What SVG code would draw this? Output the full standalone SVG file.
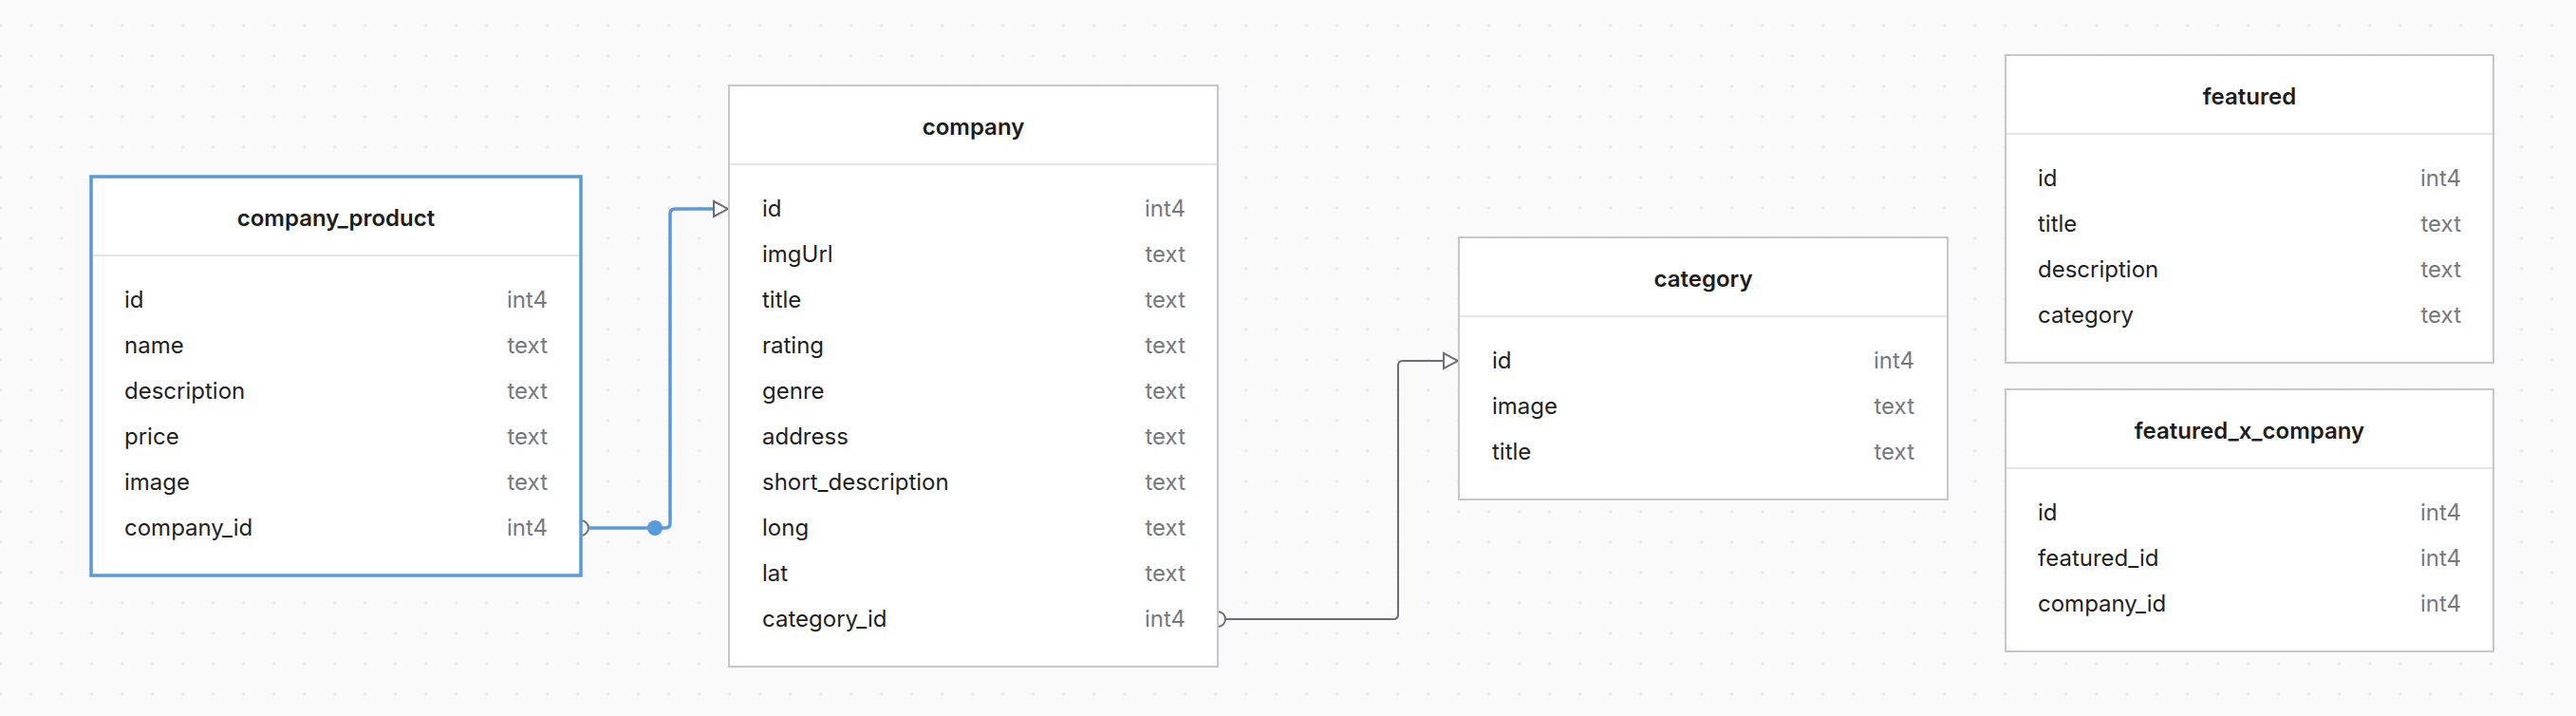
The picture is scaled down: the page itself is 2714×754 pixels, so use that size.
<svg xmlns="http://www.w3.org/2000/svg" width="2714" height="754" viewBox="0 0 2714 754">
<defs>
<pattern id="dots" patternUnits="userSpaceOnUse" x="-15" y="10.7" width="32" height="32">
<circle cx="16" cy="16" r="1.6" fill="#e2e2e4"/>
</pattern>
<style>
.box{fill:#ffffff;stroke:#c6c6cd;stroke-width:2}
.sel{fill:#ffffff;stroke:#5a99dc;stroke-width:3.5}
.hd{stroke:#e4e4e7;stroke-width:2}
.ttl{font-family:Inter,"Liberation Sans",sans-serif;font-size:24px;font-weight:600;fill:#1c1c1c;text-anchor:middle}
.col{font-family:Inter,"Liberation Sans",sans-serif;font-size:24px;fill:#1f1f1f}
.typ{font-family:Inter,"Liberation Sans",sans-serif;font-size:24px;fill:#777781;text-anchor:end}
.ln{fill:none;stroke:#6e6e78;stroke-width:2}
.lnb{fill:none;stroke:#5a99dc;stroke-width:3.5}
.end{fill:#fafafa;stroke:#6e6e78;stroke-width:2}
.arr{fill:#ffffff;stroke:#6e6e78;stroke-width:2;stroke-linejoin:miter}
</style>
</defs>
<rect width="2714" height="754" fill="#fafafa"/>
<rect width="2714" height="754" fill="url(#dots)"/>

<g id="connectors">
<g id="edge-company_product-company">
<circle class="end" cx="612" cy="556" r="8"/>
<path class="lnb" d="M620 556 H701 Q706 556 706 551 V225 Q706 220 711 220 H752"/>
<circle cx="690" cy="556" r="8" fill="#5a99dc"/>
<path class="arr" d="M752 212 L767 220 L752 228 Z"/>
</g>
<g id="edge-company-category">
<circle class="end" cx="1283" cy="652" r="8"/>
<path class="ln" d="M1291 652 H1468 Q1473 652 1473 647 V385 Q1473 380 1478 380 H1521"/>
<path class="arr" d="M1521 372 L1536 380 L1521 388 Z"/>
</g>
</g>

<g id="company_product">
<rect class="sel" x="96" y="186" width="516" height="420"/>
<line class="hd" x1="98" y1="269" x2="610" y2="269"/>
<text class="ttl" x="354" y="238">company_product</text>
<text class="col" x="131" y="324">id</text><text class="typ" x="577" y="324">int4</text>
<text class="col" x="131" y="372">name</text><text class="typ" x="577" y="372">text</text>
<text class="col" x="131" y="420">description</text><text class="typ" x="577" y="420">text</text>
<text class="col" x="131" y="468">price</text><text class="typ" x="577" y="468">text</text>
<text class="col" x="131" y="516">image</text><text class="typ" x="577" y="516">text</text>
<text class="col" x="131" y="564">company_id</text><text class="typ" x="577" y="564">int4</text>
</g>

<g id="company">
<rect class="box" x="768" y="90" width="515" height="612"/>
<line class="hd" x1="769" y1="173" x2="1282" y2="173"/>
<text class="ttl" x="1025.5" y="142">company</text>
<text class="col" x="803" y="228">id</text><text class="typ" x="1249" y="228">int4</text>
<text class="col" x="803" y="276">imgUrl</text><text class="typ" x="1249" y="276">text</text>
<text class="col" x="803" y="324">title</text><text class="typ" x="1249" y="324">text</text>
<text class="col" x="803" y="372">rating</text><text class="typ" x="1249" y="372">text</text>
<text class="col" x="803" y="420">genre</text><text class="typ" x="1249" y="420">text</text>
<text class="col" x="803" y="468">address</text><text class="typ" x="1249" y="468">text</text>
<text class="col" x="803" y="516">short_description</text><text class="typ" x="1249" y="516">text</text>
<text class="col" x="803" y="564">long</text><text class="typ" x="1249" y="564">text</text>
<text class="col" x="803" y="612">lat</text><text class="typ" x="1249" y="612">text</text>
<text class="col" x="803" y="660">category_id</text><text class="typ" x="1249" y="660">int4</text>
</g>

<g id="category">
<rect class="box" x="1537" y="250" width="515" height="276"/>
<line class="hd" x1="1538" y1="333" x2="2051" y2="333"/>
<text class="ttl" x="1794.5" y="302">category</text>
<text class="col" x="1572" y="388">id</text><text class="typ" x="2017" y="388">int4</text>
<text class="col" x="1572" y="436">image</text><text class="typ" x="2017" y="436">text</text>
<text class="col" x="1572" y="484">title</text><text class="typ" x="2017" y="484">text</text>
</g>

<g id="featured">
<rect class="box" x="2113" y="58" width="514" height="324"/>
<line class="hd" x1="2114" y1="141" x2="2626" y2="141"/>
<text class="ttl" x="2370" y="110">featured</text>
<text class="col" x="2147" y="196">id</text><text class="typ" x="2593" y="196">int4</text>
<text class="col" x="2147" y="244">title</text><text class="typ" x="2593" y="244">text</text>
<text class="col" x="2147" y="292">description</text><text class="typ" x="2593" y="292">text</text>
<text class="col" x="2147" y="340">category</text><text class="typ" x="2593" y="340">text</text>
</g>

<g id="featured_x_company">
<rect class="box" x="2113" y="410" width="514" height="276"/>
<line class="hd" x1="2114" y1="493" x2="2626" y2="493"/>
<text class="ttl" x="2370" y="462">featured_x_company</text>
<text class="col" x="2147" y="548">id</text><text class="typ" x="2593" y="548">int4</text>
<text class="col" x="2147" y="596">featured_id</text><text class="typ" x="2593" y="596">int4</text>
<text class="col" x="2147" y="644">company_id</text><text class="typ" x="2593" y="644">int4</text>
</g>
</svg>
